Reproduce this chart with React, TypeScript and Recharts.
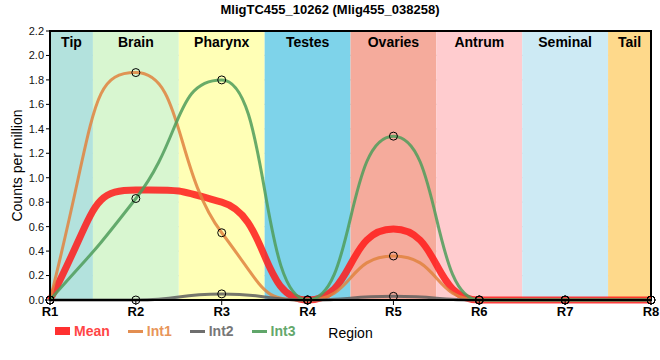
import { LineChart, Line, XAxis, YAxis, CartesianGrid, ReferenceArea } from 'recharts';

const regions = [1, 2, 3, 4, 5, 6, 7, 8];
const mean = [0, 0.9, 0.8, 0, 0.58, 0, 0, 0];
const int1 = [0, 1.86, 0.55, 0, 0.36, 0, 0, 0];
const int2 = [0, 0, 0.05, 0, 0.03, 0, 0, 0];
const int3 = [0, 0.83, 1.8, 0, 1.34, 0, 0, 0];
const yTicks = [0, 0.2, 0.4, 0.6, 0.8, 1.0, 1.2, 1.4, 1.6, 1.8, 2.0, 2.2];

const bandNames = ['Tip', 'Brain', 'Pharynx', 'Testes', 'Ovaries', 'Antrum', 'Seminal', 'Tail'];
const bandStart = [1, 1.5, 2.5, 3.5, 4.5, 5.5, 6.5, 7.5];
const bandEnd = [1.5, 2.5, 3.5, 4.5, 5.5, 6.5, 7.5, 8];
const bandColors = ['#b3e2dd', '#d8f6d0', '#ffffb6', '#7ed3ea', '#f5ab9c', '#ffcccf', '#cdeaf4', '#fed98b'];

const data = regions.map((r, i) => ({ r, mean: mean[i], int1: int1[i], int2: int2[i], int3: int3[i] }));

const series = [
  { key: 'mean', name: 'Mean', color: '#ff1a1a', text: '#ff4545', width: 7 },
  { key: 'int1', name: 'Int1', color: '#e0823e', text: '#e8955a', width: 3 },
  { key: 'int2', name: 'Int2', color: '#5e5e5e', text: '#777777', width: 3 },
  { key: 'int3', name: 'Int3', color: '#4f9c5a', text: '#64a86c', width: 3 },
];

const font = 'Arial, "Liberation Sans", sans-serif';

// monotone tangents, but with longer bezier handles so plateaus stay flatter
const softMonotone = (k: number) => (context: any) => {
  let xs: number[] = [];
  let ys: number[] = [];
  return {
    areaStart() {},
    areaEnd() {},
    lineStart() {
      xs = [];
      ys = [];
    },
    point(x: number, y: number) {
      xs.push(+x);
      ys.push(+y);
    },
    lineEnd() {
      const n = xs.length;
      if (!n) return;
      context.moveTo(xs[0], ys[0]);
      if (n === 1) return;
      if (n === 2) {
        context.lineTo(xs[1], ys[1]);
        return;
      }
      const s: number[] = [];
      for (let i = 0; i < n - 1; i++) s.push((ys[i + 1] - ys[i]) / (xs[i + 1] - xs[i]));
      const m: number[] = new Array(n).fill(0);
      for (let i = 1; i < n - 1; i++) {
        const h0 = xs[i] - xs[i - 1];
        const h1 = xs[i + 1] - xs[i];
        const p = (s[i - 1] * h1 + s[i] * h0) / (h0 + h1);
        m[i] = (Math.sign(s[i - 1]) + Math.sign(s[i])) * Math.min(Math.abs(s[i - 1]), Math.abs(s[i]), 0.5 * Math.abs(p)) || 0;
      }
      m[0] = (3 * s[0] - m[1]) / 2;
      m[n - 1] = (3 * s[n - 2] - m[n - 2]) / 2;
      for (let i = 0; i < n - 1; i++) {
        const dx = xs[i + 1] - xs[i];
        context.bezierCurveTo(
          xs[i] + k * dx,
          ys[i] + k * dx * m[i],
          xs[i + 1] - k * dx,
          ys[i + 1] - k * dx * m[i + 1],
          xs[i + 1],
          ys[i + 1]
        );
      }
    },
  };
};

const curve = softMonotone(0.55);

export default function App() {
  return (
    <div style={{ position: 'absolute', left: 0, top: 0, width: 660, height: 360, background: '#fff', fontFamily: font }}>
      <div style={{ position: 'absolute', top: 2, left: 0, width: 660, textAlign: 'center', fontWeight: 'bold', fontSize: 13 }}>
        MligTC455_10262 (Mlig455_038258)
      </div>
      <LineChart width={660} height={360} data={data} margin={{ top: 31, right: 9, bottom: 20, left: 0 }}>
        {bandNames.map((n, i) => (
          <ReferenceArea
            key={n}
            x1={bandStart[i]}
            x2={bandEnd[i]}
            y1={0}
            y2={2.2}
            fill={bandColors[i]}
            fillOpacity={1}
            stroke="none"
            label={{ value: n, position: 'insideTop', offset: 6, fill: '#000', fontWeight: 'bold', fontSize: 14, fontFamily: font }}
          />
        ))}
        <CartesianGrid stroke="#cccccc" strokeWidth={1.2} fill="none" />
        <XAxis
          dataKey="r"
          type="number"
          domain={[1, 8]}
          ticks={regions}
          tickFormatter={(v) => 'R' + v}
          tick={{ fill: '#000', fontSize: 13, fontWeight: 'bold', fontFamily: font }}
          tickLine={{ stroke: '#000' }}
          tickSize={5}
          axisLine={{ stroke: '#000', strokeWidth: 2 }}
          height={40}
          label={{ value: 'Region', position: 'insideBottom', offset: 2, fill: '#000', fontSize: 14, fontFamily: font }}
        />
        <YAxis
          type="number"
          domain={[0, 2.2]}
          ticks={yTicks}
          tickFormatter={(v) => v.toFixed(1)}
          tick={{ fill: '#111', fontSize: 11, fontFamily: font }}
          tickLine={{ stroke: '#000' }}
          tickSize={4}
          axisLine={{ stroke: '#000', strokeWidth: 2 }}
          width={50}
          label={{
            content: ({ viewBox }: any) => {
              const cy = viewBox.y + viewBox.height / 2;
              return (
                <text x={22} y={cy} transform={`rotate(-90 22 ${cy})`} textAnchor="middle" fontSize={14} fontFamily={font} fill="#000">
                  Counts per million
                </text>
              );
            },
          }}
        />
        {series.map((s) => (
          <Line
            key={s.key}
            dataKey={s.key}
            name={s.name}
            type={curve as any}
            stroke={s.color}
            strokeOpacity={0.85}
            strokeWidth={s.width}
            dot={s.key === 'mean' ? false : { r: 4, stroke: '#000', strokeWidth: 1, fill: 'none', strokeOpacity: 1 }}
            activeDot={false}
            isAnimationActive={false}
          />
        ))}
        <ReferenceArea x1={1} x2={8} y1={0} y2={2.2} fill="none" stroke="#000" strokeWidth={2} />
      </LineChart>
      <div style={{ position: 'absolute', left: 55, top: 323, display: 'flex', alignItems: 'center', fontSize: 14, fontWeight: 'bold' }}>
        {series.map((s) => (
          <div key={s.key} style={{ display: 'flex', alignItems: 'center', marginRight: 18 }}>
            <div style={{ width: 15, height: s.key === 'mean' ? 8 : 3, background: s.color, opacity: 0.9, marginRight: 4 }} />
            <span style={{ color: s.text }}>{s.name}</span>
          </div>
        ))}
      </div>
    </div>
  );
}
